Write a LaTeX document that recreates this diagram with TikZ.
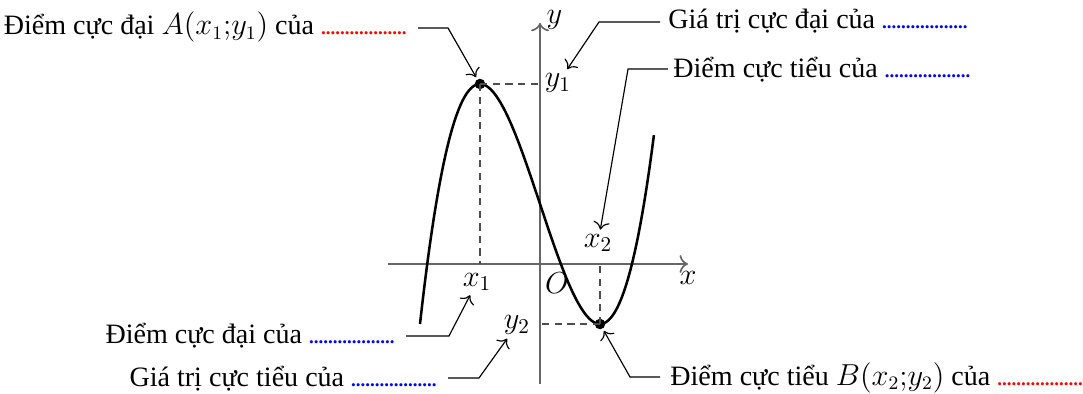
\documentclass[tikz,border=0pt]{standalone}
\usepackage{fontspec}
\setmainfont{Liberation Serif}
\usetikzlibrary{arrows.meta}
\newcommand{\rdots}{{\fontsize{9}{10}\selectfont\bfseries\color{red}..................}}
\newcommand{\bdots}{{\fontsize{9}{10}\selectfont\bfseries\color{blue}..................}}
\tikzset{
  lbl/.style={font=\fontsize{13.3}{16}\selectfont, inner sep=0pt},
  mlbl/.style={font=\fontsize{14}{16}\selectfont, inner sep=1pt},
  conn/.style={-{To[scale=1.3]}, line width=0.55pt, shorten >=1pt},
  axis/.style={-{To[scale=1.2]}, line width=0.8pt, black!60},
  guide/.style={dash pattern=on 3.5pt off 2.5pt, line width=0.6pt, black!70},
  ptdot/.style={circle, fill=black, inner sep=0pt, minimum size=5pt},
  curve/.style={line width=1.2pt, black},
}
\begin{document}
\begin{tikzpicture}
\useasboundingbox (-9,-2.1667) rectangle (9.05,4.4);
% axes
\coordinate (xl) at (-2.533,0);
\coordinate (xr) at (2.467,0);
\coordinate (yb) at (0,-2);
\coordinate (yt) at (0,4.02);
\draw[axis] (xl) -- (xr);
\draw[axis] (yb) -- (yt);
\node[mlbl] (xlab) at (2.467,-0.233) {$x$};
\node[mlbl, inner sep=0pt] (ylab) at (0.24,4.06) {$y$};
\node[mlbl] (O) at (0.283,-0.317) {$O$};
% curve
\draw[curve] plot[domain=-2:1.9, samples=120, smooth] (\x, {\x*\x*\x-3*\x+1});
% extrema
\node[ptdot] (A) at (-1,3) {};
\node[ptdot] (B) at (1,-1) {};
\coordinate (Ax) at (-1,0);
\coordinate (Ay) at (0,3);
\coordinate (Bx) at (1,0);
\coordinate (By) at (0,-1);
\draw[guide] (A.center) -- (Ax);
\draw[guide] (A.center) -- (Ay);
\draw[guide] (B.center) -- (Bx);
\draw[guide] (B.center) -- (By);
% axis labels
\node[mlbl] (x1) at (-1.05,-0.3) {$x_1$};
\node[mlbl] (y1) at (0.3,3.017) {$y_1$};
\node[mlbl] (x2) at (0.967,0.35) {$x_2$};
\node[mlbl] (y2) at (-0.383,-1.017) {$y_2$};
% texts
\node[lbl, anchor=base east] (t1) at (-2.217,3.817) {Điểm cực đại $A(x_1{;}y_1)$ của \rdots};
\node[lbl, anchor=base west] (t2) at (2.133,3.933) {Giá trị cực đại của \bdots};
\node[lbl, anchor=base west] (t3) at (2.217,3.1) {Điểm cực tiểu của \bdots};
\node[lbl, anchor=base east] (t4) at (-2.417,-1.333) {Điểm cực đại của \bdots};
\node[lbl, anchor=base east] (t5) at (-1.717,-2.05) {Giá trị cực tiểu của \bdots};
\node[lbl, anchor=base west] (t6) at (2.167,-2.017) {Điểm cực tiểu $B(x_2{;}y_2)$ của \rdots};
% connectors
\coordinate (c1a) at (-2.033,3.933); \coordinate (c1b) at (-1.533,3.933);
\draw[conn] (c1a) -- (c1b) -- (A);
\coordinate (c2a) at (2.0,4.033); \coordinate (c2b) at (0.983,4.033);
\draw[conn] (c2a) -- (c2b) -- (y1);
\coordinate (c3a) at (2.133,3.25); \coordinate (c3b) at (1.467,3.25);
\draw[conn] (c3a) -- (c3b) -- (x2);
\coordinate (c4a) at (-2.233,-1.2); \coordinate (c4b) at (-1.517,-1.2);
\draw[conn] (c4a) -- (c4b) -- (x1);
\coordinate (c5a) at (-1.533,-1.9); \coordinate (c5b) at (-1.017,-1.9);
\draw[conn] (c5a) -- (c5b) -- (y2);
\coordinate (c6a) at (2.0,-1.883); \coordinate (c6b) at (1.5,-1.883);
\draw[conn] (c6a) -- (c6b) -- (B);
\end{tikzpicture}
\end{document}
